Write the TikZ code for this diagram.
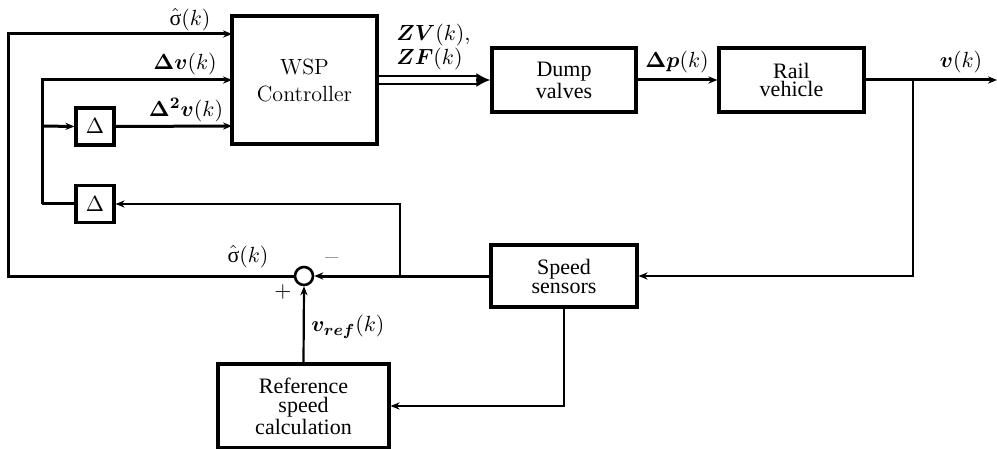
\documentclass[tikz,border=0pt]{standalone}
\usepackage{amsmath,bm}
\usepackage{fontspec}
\newfontfamily\grkfont{Liberation Serif}
\newfontfamily\boxfont{Liberation Serif}
\usetikzlibrary{arrows.meta,calc}
\newcommand{\sighat}{\hat{\text{\grkfont σ}}}
\begin{document}
\begin{tikzpicture}[x=0.5pt,y=-0.5pt,
  blk/.style={draw,line width=1.6pt,inner sep=0pt,align=center},
  lbl/.style={inner sep=0pt,font=\fontsize{11}{13}\selectfont},
  wire/.style={line width=1.5pt},
  thinwire/.style={line width=1.1pt},
  arr/.style={-{Stealth[length=4.5pt,width=3.6pt]}},
  txtA/.style={font=\fontsize{11}{13.5}\selectfont},
  txtB/.style={font=\boxfont\fontsize{11}{9}\selectfont}]
\useasboundingbox (0,0) rectangle (997,449);
% blocks
\node[blk,txtA,minimum width=72.5pt,minimum height=64pt] (wsp) at (304.5,80) {WSP\\Controller};
\node[blk,txtB,minimum width=72pt,minimum height=32pt] (dump) at (564,80) {Dump\\valves};
\node[blk,txtB,minimum width=72.5pt,minimum height=32pt] (rail) at (791.5,80) {Rail\\vehicle};
\node[blk,minimum width=19pt,minimum height=18.5pt,font=\fontsize{11}{13}\selectfont] (d1) at (95,126.5) {$\Delta$};
\node[blk,minimum width=19pt,minimum height=18.5pt,font=\fontsize{11}{13}\selectfont] (d2) at (95,204) {$\Delta$};
\node[draw,circle,line width=1.3pt,minimum size=9pt,inner sep=0pt] (sum) at (304,276) {};
\node[blk,font=\boxfont\fontsize{11}{9.5}\selectfont,minimum width=73pt,minimum height=31pt] (speed) at (564,276) {Speed\\sensors};
\node[blk,font=\boxfont\fontsize{11}{9.5}\selectfont,minimum width=85.5pt,minimum height=42pt] (ref) at (303.5,406) {Reference\\speed\\calculation};
% coordinates
\coordinate (cL) at (8,276);
\coordinate (cT) at (8,34);
\coordinate (in1) at (232,34);
\coordinate (in2) at (232,80);
\coordinate (in3) at (232,126);
\coordinate (vA) at (42,80);
\coordinate (vB) at (42,126);
\coordinate (vC) at (42,204);
\coordinate (fb) at (400,276);
\coordinate (fbT) at (400,204);
\coordinate (br) at (913,80);
\coordinate (brB) at (913,276);
\coordinate (out) at (997,80);
\coordinate (sd) at (564,406);
% connectors
\draw[wire,arr] (sum.west) -- (cL) -- (cT) -- (in1);
\draw[wire,arr] (vC) -- (vA) -- (in2);
\draw[wire,arr] (vB) -- (d1.west);
\draw[wire,arr] (d1.east) -- (in3);
\draw[wire] (d2.west) -- (vC);
\draw[thinwire,arr] (fb) -- (fbT) -- (d2.east);
\draw[wire,arr] (speed.west) -- (sum.east);
\draw[thinwire,arr] (ref.north) -- (sum.south);
\draw[thinwire,arr] (speed.south) -- (sd) -- (ref.east);
\draw[wire,arr] (rail.east) -- (out);
\draw[thinwire,arr] (br) -- (brB) -- (speed.east);
\draw[wire,arr] (dump.east) -- (rail.west);
\draw[line width=1pt,double distance=2.6pt,shorten >=5pt] (wsp.east) -- (dump.west);
\draw[line width=1pt,-{Latex[length=7pt,width=7pt]}] ($(dump.west)+(-14,0)$) -- (dump.west);
% labels
\node[lbl] (l1) at (190,20) {$\sighat(k)$};
\node[lbl] (l2) at (185,64) {$\bm{\Delta v}(k)$};
\node[lbl] (l3) at (186,110) {$\bm{\Delta^2 v}(k)$};
\node[lbl,align=left,anchor=west,font=\fontsize{11}{10}\selectfont] (l4) at (396,47) {$\bm{ZV}(k),$\\$\bm{ZF}(k)$};
\node[lbl] (l5) at (677,62) {$\bm{\Delta p}(k)$};
\node[lbl] (l6) at (961,62) {$\bm{v}(k)$};
\node[lbl] (l7) at (248,257) {$\sighat(k)$};
\node[lbl,text=black!45] (l8) at (332,258) {$-$};
\node[lbl] (l9) at (283,292) {$+$};
\node[lbl] (l10) at (348,327) {$\bm{v}_{\bm{ref}}(k)$};
\end{tikzpicture}
\end{document}
